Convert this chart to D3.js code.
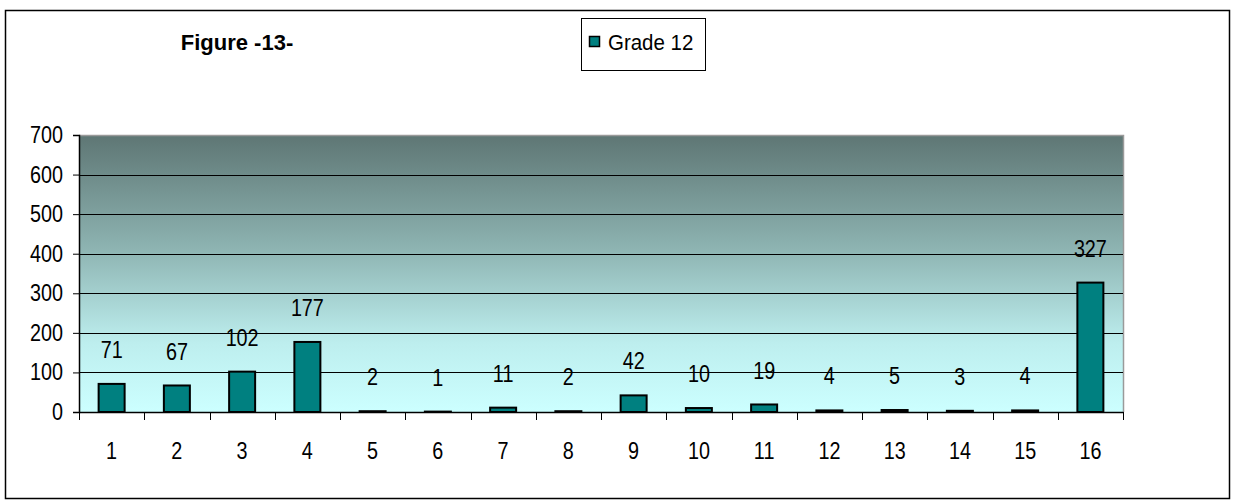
<!DOCTYPE html>
<html><head><meta charset="utf-8">
<script src="https://cdn.jsdelivr.net/npm/d3@7"></script>
<style>body{margin:0;background:#fff}svg{display:block}</style>
</head><body><svg id="c" width="1235" height="500"></svg>
<script>
const categories = ["1","2","3","4","5","6","7","8","9","10","11","12","13","14","15","16"];
const values = [71,67,102,177,2,1,11,2,42,10,19,4,5,3,4,327];
const yTicks = [0,100,200,300,400,500,600,700];
const seriesName = "Grade 12";
const title = "Figure -13-";

const svg = d3.select("#c");
const font = "Liberation Sans, Arial, sans-serif";
const L = 79, R = 1123, T = 135, B = 412;
const NS = 23, SX = 0.86;

function label(parent, x, y, txt, anchor, size, sx, weight) {
  const gg = parent.append("g").attr("transform", `translate(${x},${y}) scale(${sx},1)`);
  gg.append("text").attr("dy","0.35em").attr("text-anchor",anchor)
    .attr("font-family",font).attr("font-size",size).attr("font-weight",weight||"normal")
    .attr("fill","#000").text(txt);
}

svg.append("rect").attr("x",5.5).attr("y",10.5).attr("width",1224).attr("height",488)
  .attr("fill","#fff").attr("stroke","#000").attr("stroke-width",1.5);

const defs = svg.append("defs");
const g = defs.append("linearGradient").attr("id","bg").attr("x1",0).attr("y1",0).attr("x2",0).attr("y2",1);
g.append("stop").attr("offset","0%").attr("stop-color","#5e7674");
g.append("stop").attr("offset","40%").attr("stop-color","#8cb2b0");
g.append("stop").attr("offset","75%").attr("stop-color","#bdeeee");
g.append("stop").attr("offset","100%").attr("stop-color","#ccffff");

const xb = d3.scaleBand().domain(categories).range([L,R]);
const y = d3.scaleLinear().domain([0,700]).range([B,T]);

svg.append("rect").attr("x",L).attr("y",T).attr("width",R-L).attr("height",B-T).attr("fill","url(#bg)");
svg.append("path").attr("d",`M${L},${T+0.5}H${R+0.5}V${B}`).attr("fill","none").attr("stroke","#9a9a9a").attr("stroke-width",1.5);

// gridlines
svg.append("g").selectAll("line").data(yTicks.filter(t=>t>0&&t<700)).join("line")
  .attr("x1",L).attr("x2",R).attr("y1",d=>Math.round(y(d))+0.5).attr("y2",d=>Math.round(y(d))+0.5)
  .attr("stroke","#000").attr("stroke-width",1);

// bars
svg.append("g").selectAll("rect").data(values).join("rect")
  .attr("x",(d,i)=>xb(categories[i]) + (xb.bandwidth()-26)/2)
  .attr("width",26)
  .attr("y",d=>y(d)).attr("height",d=>B-y(d))
  .attr("fill","#008080").attr("stroke","#000").attr("stroke-width",2);

// y axis
const ya = d3.axisLeft(y).tickValues(yTicks).tickSize(6).tickFormat("");
const yg = svg.append("g").attr("transform",`translate(${L},0)`).call(ya);
yg.select(".domain").attr("stroke","#000").attr("stroke-width",1.5);
const ylab = svg.append("g");
yTicks.forEach(t => label(ylab, 63, y(t), String(t), "end", NS, SX));

// x axis
const xa = d3.axisBottom(xb).tickSize(0).tickFormat("");
const xg = svg.append("g").attr("transform",`translate(0,${B})`).call(xa);
xg.select(".domain").attr("stroke","#000").attr("stroke-width",1.5);
const bounds = categories.map(c=>xb(c)).concat([R]);
svg.append("g").selectAll("line").data(bounds).join("line")
  .attr("x1",d=>Math.round(d)+0.5).attr("x2",d=>Math.round(d)+0.5).attr("y1",B).attr("y2",B+8)
  .attr("stroke","#000").attr("stroke-width",1);
const xlab = svg.append("g");
categories.forEach(c => label(xlab, xb(c)+xb.bandwidth()/2, 451, c, "middle", NS, SX));

// data labels
const dlab = svg.append("g");
values.forEach((v,i) => label(dlab, xb(categories[i])+xb.bandwidth()/2, y(v)-34, String(v), "middle", NS, SX));

// title
label(svg, 237, 42, title, "middle", 22, 1, "bold");

// legend
svg.append("rect").attr("x",581.5).attr("y",18.5).attr("width",124).attr("height",52)
  .attr("fill","#fff").attr("stroke","#000").attr("stroke-width",1);
svg.append("rect").attr("x",589.5).attr("y",36.5).attr("width",10).attr("height",10)
  .attr("fill","#008080").attr("stroke","#000").attr("stroke-width",1.5);
label(svg, 608, 42, seriesName, "start", 22, 0.93);
</script></body></html>
